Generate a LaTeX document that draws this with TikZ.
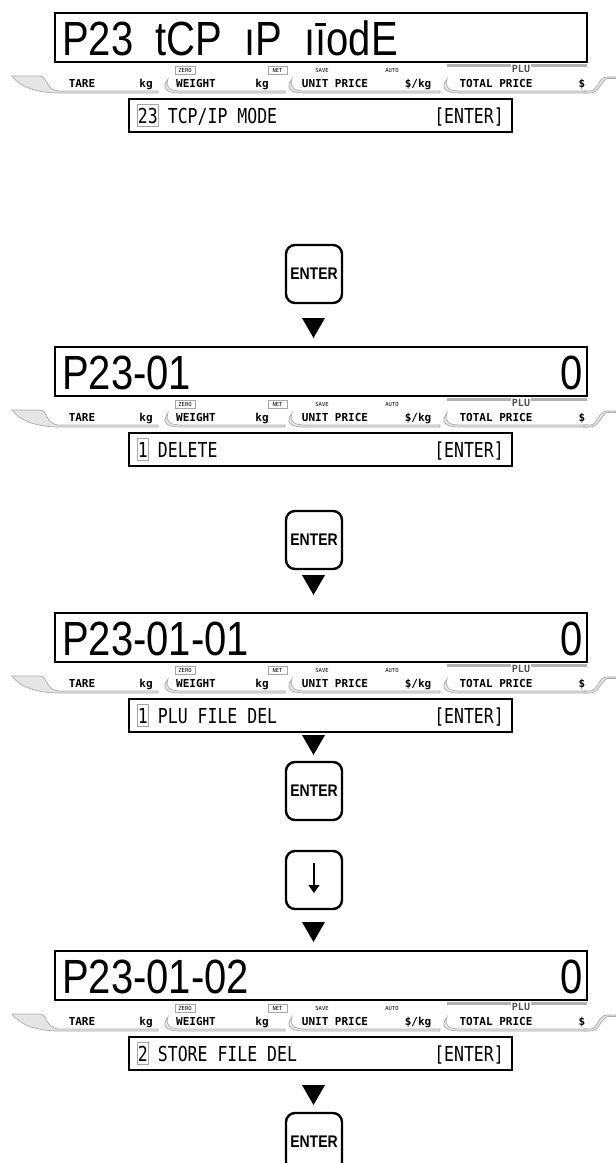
\documentclass[tikz,border=0pt]{standalone}
\usepackage{fontspec}
\setmainfont{Liberation Sans}
\newfontfamily\lcdfont{Liberation Sans}[WordSpace=2]
\newfontfamily\panelfont{DejaVu Sans Mono}
\usepackage{graphicx}
\usetikzlibrary{arrows.meta,positioning,shapes.geometric}

\newcommand{\stretchy}[2][1.25]{\scalebox{1}[#1]{#2}}

\tikzset{
  lcdbox/.style={draw, line width=1.6pt, minimum width=532pt, minimum height=49pt, inner sep=0pt},
  lcdtext/.style={font=\lcdfont\fontsize{40}{40}\selectfont, inner sep=0pt},
  tag/.style={font=\panelfont\fontsize{5.5}{5.5}\selectfont, inner sep=0.6pt, minimum height=8pt},
  plu/.style={font=\panelfont\bfseries\fontsize{10}{10}\selectfont, text=gray!65!black, fill=white, inner sep=1pt},
  strip/.style={draw=gray!65, fill=gray!20, line width=0.7pt},
  striptxt/.style={font=\panelfont\bfseries\fontsize{11}{12}\selectfont, inner sep=0pt, anchor=base},
  subbox/.style={draw, line width=1.3pt, minimum width=383pt, minimum height=33pt, inner sep=0pt},
  numbox/.style={draw=gray!70, line width=0.8pt, font=\panelfont\fontsize{16.5}{17}\selectfont,
    inner xsep=0.5pt, inner ysep=3.5pt, text height=15pt, text depth=0pt},
  subtxt/.style={font=\panelfont\fontsize{16.5}{17}\selectfont, inner sep=0pt, text height=15pt, text depth=0pt},
  keycap/.style={draw, line width=2.4pt, rounded corners=9pt, minimum width=56pt, minimum height=58pt,
    inner sep=0pt, font=\bfseries\fontsize{14}{14}\selectfont},
  pointer/.style={regular polygon, regular polygon sides=3, shape border rotate=180, fill=black,
    minimum size=26.6pt, inner sep=0pt}
}

\begin{document}
\begin{tikzpicture}[x=1pt,y=-1pt]
    \useasboundingbox (0,0) rectangle (616,1163);
    \clip (0,0) rectangle (616,1163);

    % the four scale displays
    \foreach \n/\ytop/\lcd/\val/\num/\entry in {
        1/13/{P23 tCP \i P \i\={\i}odE}//23/{TCP/IP MODE},
        2/347/{P23-01}/0/1/DELETE,
        3/613/{P23-01-01}/0/1/{PLU FILE DEL},
        4/951/{P23-01-02}/0/2/{STORE FILE DEL}
    }{
    \begin{scope}[shift={(0,\ytop)}]
        \node[lcdbox] (lcd\n) at (321,24.5) {};
        \node[lcdtext, anchor=base west] (lcdtxt\n) at (62,42) {\stretchy[1.2]{\lcd}};
        \node[lcdtext, anchor=base east] (lcdval\n) at (583,42) {\stretchy[1.2]{\val}};

        \node[tag, draw=gray!70, minimum width=20pt] (zero\n) at (185,57) {ZERO};
        \node[tag, draw=gray!70, minimum width=19pt] (net\n) at (277.5,57) {NET};
        \node[tag] (save\n) at (322,57) {SAVE};
        \node[tag] (auto\n) at (392,57) {AUTO};
        \draw[gray!60, line width=2.5pt] (447,52.5) -- (587,52.5);
        \node[plu] (plu\n) at (521,56) {PLU};

        % grey label strip
        \path[strip] (12,63) -- (40,63) .. controls (47,63) and (46,77) .. (58,78) -- (158,78)
            -- (158,80) -- (56,80) .. controls (30,79) and (18,71) .. (12,63) -- cycle;
        \foreach \a/\c in {163/285,287/440,442/588}
            \path[strip] ({\a+5},66) .. controls ({\a+2},75) and ({\a+7},78) .. ({\a+19},78) -- (\c,78)
                -- (\c,80) -- ({\a+17},80) .. controls ({\a+3},80) and ({\a-2},75) .. ({\a+5},66) -- cycle;
        \path[strip] (584,78) -- (590,78) .. controls (598,78) and (598,64) .. (607,64) -- (616,64)
            -- (616,65.5) -- (608,65.5) .. controls (601,66) and (600,80) .. (590,80) -- (584,80) -- cycle;
        \foreach \x/\lab in {82/TARE,146/kg,196/WEIGHT,262/kg,335/{UNIT PRICE},418/{\$/kg},496/{TOTAL PRICE},582/\$}
            \node[striptxt] (lab\n-\x) at (\x,74) {\lab};

        % menu line
        \node[subbox] (sub\n) at (320.5,102.5) {};
        \node[numbox, anchor=west] (num\n) at (137,102.5) {\stretchy{\num}};
        \node[subtxt, right=9pt of num\n] (item\n) {\stretchy{\entry}};
        \node[subtxt, anchor=east] (ent\n) at (504,102.5) {\stretchy{[ENTER]}};
    \end{scope}
    }

    % keys and pointers
    \node[keycap] (k1) at (314,274) {\stretchy[1.2]{ENTER}};
    \node[pointer] (p1) at (313.5,324.65) {};
    \node[keycap] (k2) at (314,540) {\stretchy[1.2]{ENTER}};
    \node[pointer] (p2) at (313.5,581.65) {};
    \node[pointer] (p3) at (313.5,741.65) {};
    \node[keycap] (k3) at (314,791) {\stretchy[1.2]{ENTER}};
    \node[keycap] (k4) at (314,880) {};
    \draw[-{Triangle[length=8pt,width=11pt]}, line width=1.1pt] ([yshift=17pt]k4.center) -- ([yshift=-13pt]k4.center);
    \node[pointer] (p4) at (313.5,928.65) {};
    \node[pointer] (p5) at (313.5,1091.65) {};
    \node[keycap] (k5) at (314,1142) {\stretchy[1.2]{ENTER}};
\end{tikzpicture}
\end{document}
